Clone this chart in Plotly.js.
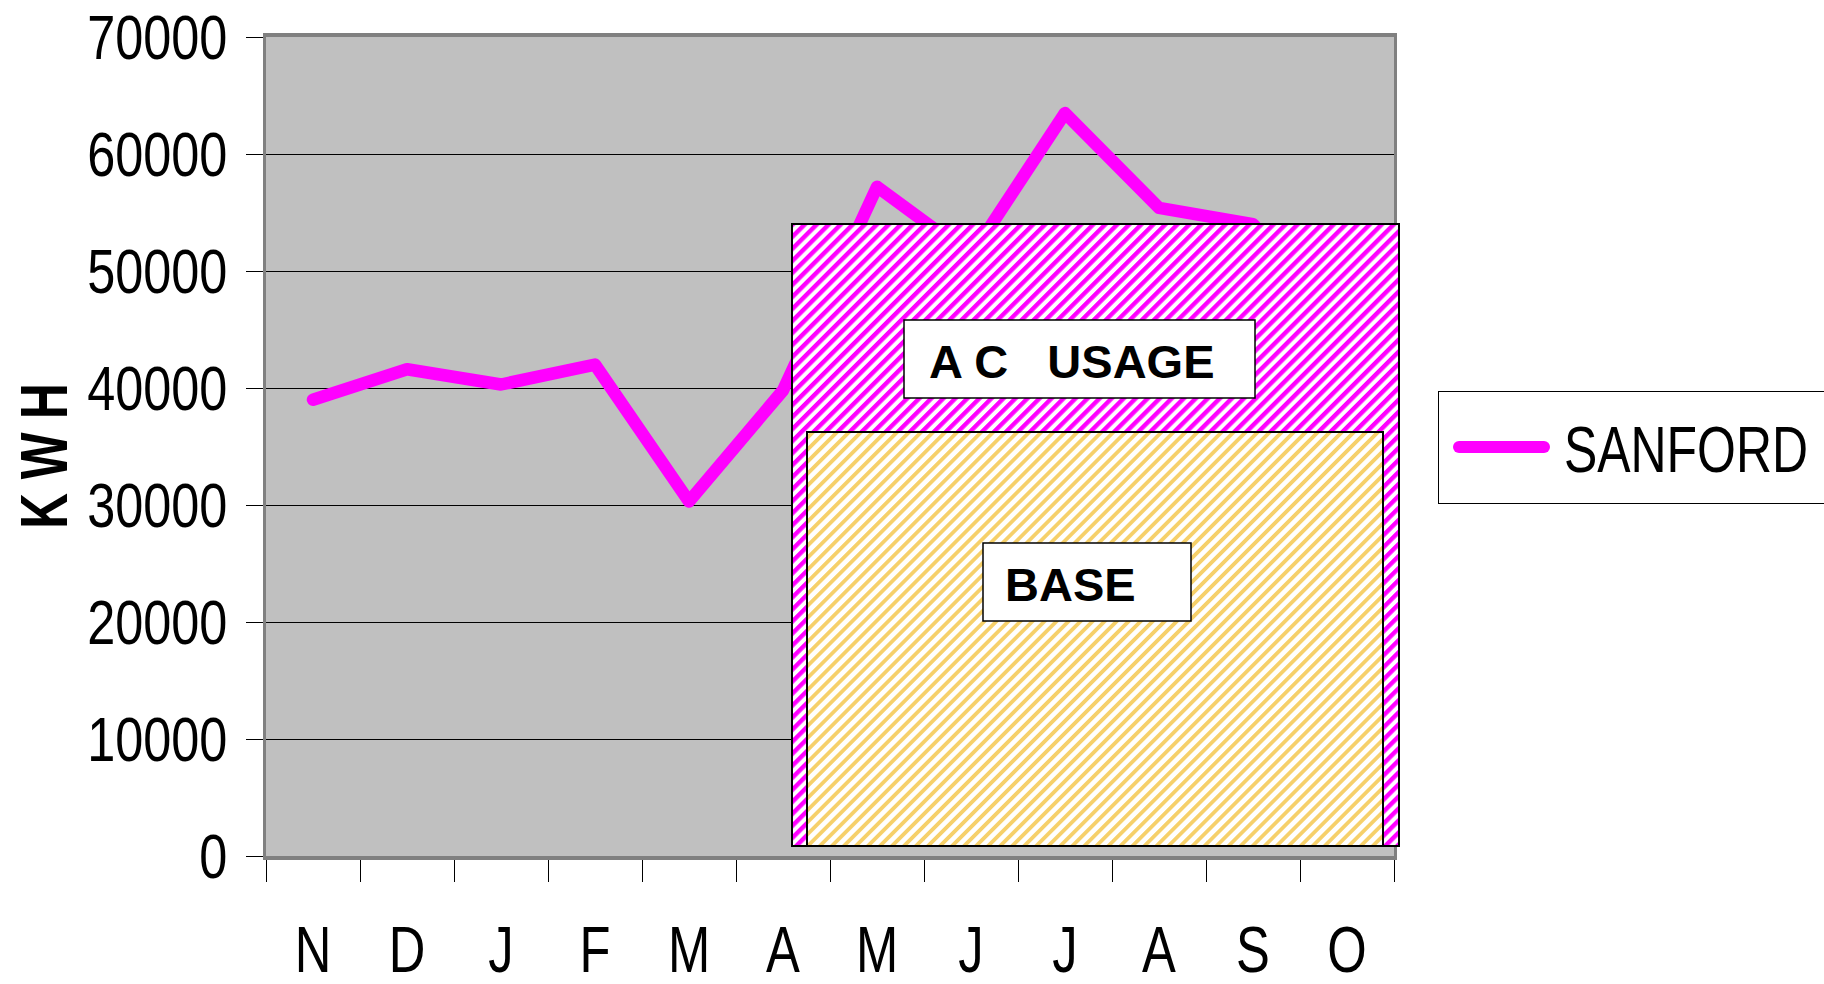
<!DOCTYPE html>
<html>
<head>
<meta charset="utf-8">
<script src="https://cdn.plot.ly/plotly-3.0.1.min.js"></script>
<style>
html,body{margin:0;padding:0;background:#ffffff;}
#chart{width:1824px;height:984px;}
</style>
</head>
<body>
<div id="chart"></div>
<script>
// ---- data ----
const monthKeys   = ['Nov','Dec','Jan','Feb','Mar','Apr','May','Jun','Jul','Aug','Sep','Oct'];
const monthLabels = ['N','D','J','F','M','A','M','J','J','A','S','O'];
const sanfordKwh  = [39000, 41600, 40300, 42000, 30300, 39800, 57200, 51300, 63500, 55400, 54000, 45000];
const seriesName  = 'SANFORD';
const yTitle      = 'K W H';
const acLabel     = 'A C\u00A0\u00A0\u00A0USAGE';
const baseLabel   = 'BASE';

// ---- decoration: hatched overlay boxes (drawn as an SVG picture) ----
const W = 609, H = 624;
const IX = 16, IY = 209, IW = 576, IH = 414;
const P = 8.5;
const svg =
`<svg xmlns="http://www.w3.org/2000/svg" width="${W}" height="${H}" viewBox="0 0 ${W} ${H}" preserveAspectRatio="none">
<defs>
<pattern id="pm" width="${P}" height="${P}" patternUnits="userSpaceOnUse" patternTransform="rotate(45)">
<rect width="${P}" height="${P}" fill="#ffffff"/><rect width="4.4" height="${P}" fill="#ff00ff"/></pattern>
<pattern id="py" width="${P}" height="${P}" patternUnits="userSpaceOnUse" patternTransform="rotate(45)">
<rect width="${P}" height="${P}" fill="#ffffff"/><rect width="3.8" height="${P}" fill="#f6d06a"/></pattern>
</defs>
<rect x="1" y="1" width="${W-2}" height="${H-2}" fill="url(#pm)" stroke="#000" stroke-width="2"/>
<rect x="${IX}" y="${IY}" width="${IW}" height="${IH}" fill="url(#py)" stroke="#000" stroke-width="2"/>
</svg>`;
const svgUri = 'data:image/svg+xml;charset=utf-8,' + encodeURIComponent(svg);

// plot area in pixels: x 266..1394, y 37..856
const PL = 266, PR = 1394, PT = 37, PB = 856;
const PW = PR - PL, PH = PB - PT;
const px = X => (X - PL) / PW;
const py = Y => (PB - Y) / PH;

const sans = '"Liberation Sans", Arial, sans-serif';

const traces = [{
  type: 'scatter',
  mode: 'lines',
  x: monthKeys,
  y: sanfordKwh,
  name: seriesName,
  line: {color: '#ff00ff', width: 12.5},
  hoverinfo: 'skip'
}];

const layout = {
  width: 1824,
  height: 984,
  margin: {l: PL, r: 1824 - PR, t: PT, b: 984 - PB, pad: 0, autoexpand: false},
  paper_bgcolor: '#ffffff',
  plot_bgcolor: '#c0c0c0',
  font: {family: sans, color: '#000000'},
  showlegend: true,
  legend: {
    x: px(1438), y: py(391), xanchor: 'left', yanchor: 'top',
    bgcolor: '#ffffff', bordercolor: '#000000', borderwidth: 1,
    font: {family: sans, size: 64, color: '#000000'},
    itemwidth: 100
  },
  xaxis: {
    type: 'category',
    categoryorder: 'array',
    categoryarray: monthKeys,
    tickmode: 'array',
    tickvals: monthKeys,
    ticktext: monthLabels,
    range: [-0.5, 11.5],
    tickson: 'boundaries',
    ticks: 'outside',
    ticklen: 22,
    tickwidth: 1,
    tickcolor: '#000000',
    ticklabelstandoff: 34,
    tickfont: {family: sans, size: 65, color: '#000000'},
    showgrid: false,
    zeroline: false,
    showline: true,
    linecolor: '#808080',
    linewidth: 4,
    mirror: true,
    fixedrange: true
  },
  yaxis: {
    range: [0, 70000],
    tickmode: 'linear',
    tick0: 0,
    dtick: 10000,
    tickformat: 'd',
    ticks: 'outside',
    ticklen: 17,
    tickwidth: 1,
    tickcolor: '#000000',
    ticklabelstandoff: 6,
    tickfont: {family: sans, size: 63, color: '#000000'},
    showgrid: true,
    gridcolor: '#000000',
    gridwidth: 1,
    zeroline: false,
    showline: true,
    linecolor: '#808080',
    linewidth: 3,
    mirror: true,
    title: {text: '<b>' + yTitle + '</b>', font: {family: sans, size: 66, color: '#000000'}, standoff: 10},
    fixedrange: true
  },
  images: [{
    source: svgUri,
    xref: 'paper', yref: 'paper',
    x: px(791), y: py(223),
    sizex: (1400 - 791) / PW, sizey: (847 - 223) / PH,
    xanchor: 'left', yanchor: 'top',
    sizing: 'stretch',
    layer: 'above'
  }],
  shapes: [
    {type: 'rect', xref: 'paper', yref: 'paper', x0: px(904), x1: px(1255), y0: py(398), y1: py(320),
     fillcolor: '#ffffff', line: {color: '#000000', width: 1.5}, layer: 'above'},
    {type: 'rect', xref: 'paper', yref: 'paper', x0: px(983), x1: px(1191), y0: py(621), y1: py(543),
     fillcolor: '#ffffff', line: {color: '#000000', width: 1.5}, layer: 'above'}
  ],
  annotations: [
    {text: '<b>' + acLabel + '</b>', xref: 'paper', yref: 'paper', x: px(1072), y: py(361),
     xanchor: 'center', yanchor: 'middle', showarrow: false,
     font: {family: sans, size: 47, color: '#000000'}},
    {text: '<b>' + baseLabel + '</b>', xref: 'paper', yref: 'paper', x: px(1070), y: py(584),
     xanchor: 'center', yanchor: 'middle', showarrow: false,
     font: {family: sans, size: 47, color: '#000000'}}
  ]
};

// narrow (condensed) look of the original chart's text: horizontal squeeze about each text's anchor
function squeeze(selector, s) {
  document.querySelectorAll(selector).forEach(t => {
    const X = parseFloat(t.getAttribute('x') || '0');
    const tr = t.getAttribute('transform') || '';
    t.setAttribute('transform', tr + ` translate(${X},0) scale(${s},1) translate(${-X},0)`);
  });
}

Plotly.newPlot('chart', traces, layout, {displayModeBar: false, staticPlot: true}).then(gd => {
  squeeze('#chart .ytick text', 0.8);
  squeeze('#chart .xtick text', 0.78);
  squeeze('#chart .legend .legendtext', 0.78);
  squeeze('#chart .ytitle', 0.75);
  // y title centred at x=44, y=456 (page pixels)
  const t = document.querySelector('#chart .ytitle');
  if (t) {
    const r = t.getBoundingClientRect();
    const dx = 44 - (r.left + r.width / 2);
    const dy = 456 - (r.top + r.height / 2);
    t.setAttribute('transform', `translate(${dx},${dy}) ` + (t.getAttribute('transform') || ''));
  }
  // rounded joins on the data line
  document.querySelectorAll('#chart .scatterlayer .js-line').forEach(p => {
    p.style.strokeLinejoin = 'round';
    p.style.strokeLinecap = 'round';
  });
  // thick rounded legend line, item shifted right, taller legend box
  document.querySelectorAll('#chart .legend .legendlines path').forEach(p => {
    p.setAttribute('d', 'M5,0h85');
    p.style.strokeWidth = '12px';
    p.style.strokeLinecap = 'round';
  });
  document.querySelectorAll('#chart .legend .traces').forEach(g => {
    g.setAttribute('transform', (g.getAttribute('transform') || '') + ' translate(15,0)');
  });
  const bg = document.querySelector('#chart .legend rect.bg');
  const sb = document.querySelector('#chart .legend .scrollbox');
  if (bg && sb) {
    const h = parseFloat(bg.getAttribute('height'));
    const extra = 112 - h;
    if (extra > 0) {
      bg.setAttribute('height', 112);
      const str = sb.getAttribute('transform') || '';
      sb.setAttribute('transform', `translate(0,${extra / 2}) ` + str);
    }
  }
});
</script>
</body>
</html>
